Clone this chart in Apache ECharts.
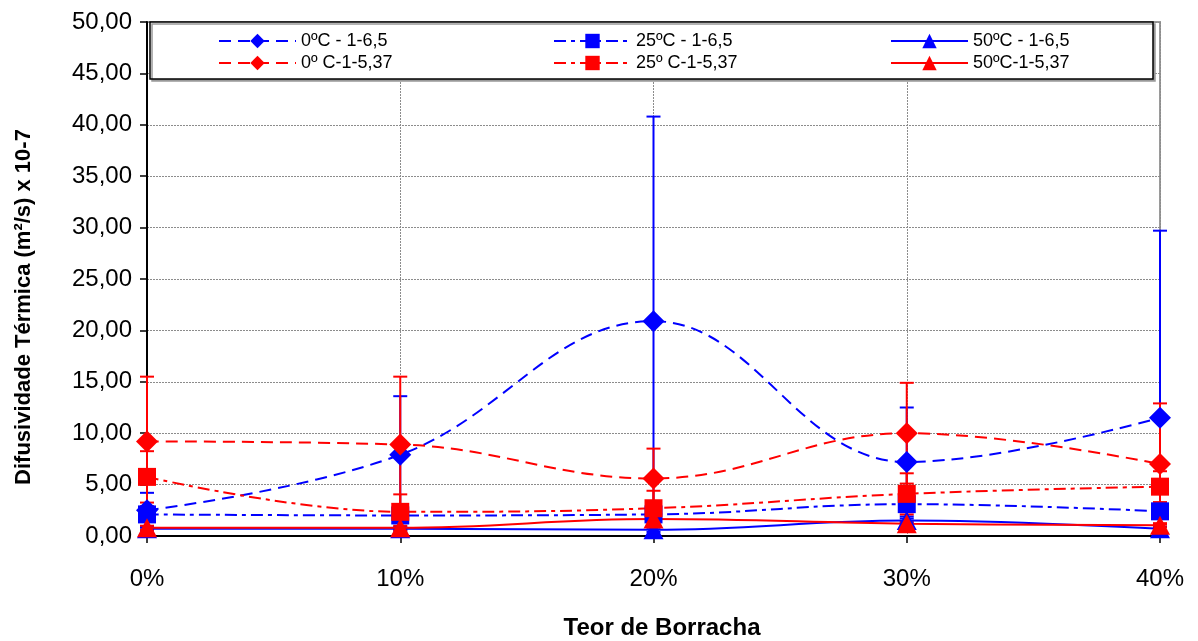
<!DOCTYPE html>
<html>
<head>
<meta charset="utf-8">
<script src="https://cdn.jsdelivr.net/npm/echarts@6/dist/echarts.min.js"></script>
<style>
  html, body { margin: 0; padding: 0; background: #fff; }
  #chart { width: 1198px; height: 641px; }
</style>
</head>
<body>
<div id="chart"></div>
<script>
// Rubber content (%) on the x axis
const teor = [0, 10, 20, 30, 40];
const xTickLabels = ['0%', '10%', '20%', '30%', '40%'];

// Thermal diffusivity (m²/s x 10-7), mean values
const b0 = [2.5, 7.9, 20.9, 7.2, 11.5];     // 0ºC - 1-6,5
const b25 = [2.1, 2.0, 2.1, 3.1, 2.4];      // 25ºC - 1-6,5
const b50 = [0.7, 0.7, 0.6, 1.5, 0.7];      // 50ºC - 1-6,5
const r0 = [9.2, 8.9, 5.6, 10.0, 7.0];      // 0º C-1-5,37
const r25 = [5.75, 2.35, 2.7, 4.1, 4.8];    // 25º C-1-5,37
const r50 = [0.8, 0.8, 1.65, 1.2, 1.05];    // 50ºC-1-5,37

// Standard deviations (error bars)
const b0Err = [1.7, 5.7, 19.9, 5.3, 18.2];
const b25Err = [0.4, 0.3, 0.4, 0.5, 0.5];
const b50Err = [0.2, 0.2, 0.2, 0.2, 0.2];
const r0Err = [6.3, 6.6, 2.9, 4.9, 5.9];
const r25Err = [2.5, 1.7, 1.7, 2.0, 1.5];
const r50Err = [0.2, 0.2, 0.2, 0.2, 0.2];

const names = ['0ºC - 1-6,5', '25ºC - 1-6,5', '50ºC - 1-6,5', '0º C-1-5,37', '25º C-1-5,37', '50ºC-1-5,37'];

const BLUE = '#0000FF';
const RED = '#FF0000';
const DASH = [12, 7];
const DASH_DOT = [12, 5, 4, 5];
const FONT = '"Liberation Sans", Arial, sans-serif';

const pairs = (ys) => teor.map((x, i) => [x, ys[i]]);
const triples = (ys, es) => teor.map((x, i) => [x, ys[i], es[i]]);

function lineSeries(name, ys, color, dash, symbol, size) {
  return {
    name: name,
    type: 'line',
    data: pairs(ys),
    smooth: 0.4,
    symbol: symbol,
    symbolSize: size,
    showAllSymbol: true,
    lineStyle: { color: color, width: 2, type: dash },
    itemStyle: { color: color },
    z: 4
  };
}

function errorSeries(ys, es, color) {
  return {
    type: 'custom',
    data: triples(ys, es),
    encode: { x: 0, y: 1 },
    z: 3,
    silent: true,
    renderItem: function (params, api) {
      const x = api.value(0), y = api.value(1), e = api.value(2);
      const top = api.coord([x, y + e]);
      const bot = api.coord([x, Math.max(0, y - e)]);
      const half = 7;
      const style = { stroke: color, lineWidth: 2, fill: null };
      return {
        type: 'group',
        children: [
          { type: 'line', shape: { x1: top[0], y1: top[1], x2: bot[0], y2: bot[1] }, style: style },
          { type: 'line', shape: { x1: top[0] - half, y1: top[1], x2: top[0] + half, y2: top[1] }, style: style },
          { type: 'line', shape: { x1: bot[0] - half, y1: bot[1], x2: bot[0] + half, y2: bot[1] }, style: style }
        ]
      };
    }
  };
}

// Legend layout: three columns, two rows
const legendCols = [218, 553, 890];
const legendRows = [32, 54];
const legends = names.map((n, i) => ({
  data: [n],
  left: legendCols[i % 3],
  top: legendRows[Math.floor(i / 3)],
  itemWidth: 77,
  itemHeight: 18,
  itemGap: 4,
  padding: 0,
  selectedMode: false,
  z: 10,
  textStyle: { fontFamily: FONT, fontSize: 18, color: '#000' }
}));

const chart = echarts.init(document.getElementById('chart'));
chart.setOption({
  animation: false,
  backgroundColor: '#fff',
  grid: { left: 147, right: 38, top: 22, bottom: 105, show: true, borderColor: '#9a9a9a', borderWidth: 2, backgroundColor: 'transparent' },
  legend: legends,
  xAxis: {
    type: 'value',
    min: 0, max: 40, interval: 10,
    axisLine: { onZero: false, lineStyle: { color: '#000', width: 2 } },
    axisTick: { show: true, length: 7, lineStyle: { color: '#000', width: 1.5 } },
    axisLabel: {
      margin: 31,
      fontFamily: FONT, fontSize: 24, color: '#000',
      formatter: (v) => xTickLabels[teor.indexOf(v)]
    },
    splitLine: { show: true, lineStyle: { color: '#8c8c8c', width: 1, type: [2, 1] } }
  },
  yAxis: {
    type: 'value',
    min: 0, max: 50, interval: 5,
    axisLine: { show: true, lineStyle: { color: '#000', width: 2 } },
    axisTick: { show: true, length: 7, lineStyle: { color: '#000', width: 1.5 } },
    axisLabel: {
      margin: 15,
      fontFamily: FONT, fontSize: 24, color: '#000',
      formatter: (v) => v.toFixed(2).replace('.', ',')
    },
    splitLine: { show: true, lineStyle: { color: '#8c8c8c', width: 1, type: [2, 1] } }
  },
  graphic: [
    {
      type: 'rect',
      z: 8,
      shape: { x: 150, y: 22, width: 1003, height: 57 },
      style: { fill: '#fff', stroke: '#000', lineWidth: 1.5, shadowColor: '#999', shadowOffsetX: 2, shadowOffsetY: 2, shadowBlur: 0 }
    },
    {
      type: 'text',
      z: 10,
      x: 24, y: 307,
      rotation: Math.PI / 2,
      style: {
        text: 'Difusividade Térmica (m²/s) x 10-7',
        fontFamily: FONT, fontSize: 22, fontWeight: 'bold', fill: '#000',
        align: 'center', verticalAlign: 'middle'
      }
    },
    {
      type: 'text',
      z: 10,
      x: 662, y: 628,
      style: {
        text: 'Teor de Borracha',
        fontFamily: FONT, fontSize: 24, fontWeight: 'bold', fill: '#000',
        align: 'center', verticalAlign: 'middle'
      }
    }
  ],
  series: [
    errorSeries(b0, b0Err, BLUE),
    errorSeries(b25, b25Err, BLUE),
    errorSeries(b50, b50Err, BLUE),
    errorSeries(r0, r0Err, RED),
    errorSeries(r25, r25Err, RED),
    errorSeries(r50, r50Err, RED),
    lineSeries(names[0], b0, BLUE, DASH, 'diamond', 22),
    lineSeries(names[1], b25, BLUE, DASH_DOT, 'rect', 18),
    lineSeries(names[2], b50, BLUE, 'solid', 'triangle', [20, 19]),
    lineSeries(names[3], r0, RED, DASH, 'diamond', 22),
    lineSeries(names[4], r25, RED, DASH_DOT, 'rect', 18),
    lineSeries(names[5], r50, RED, 'solid', 'triangle', [20, 19])
  ]
});
</script>
</body>
</html>
